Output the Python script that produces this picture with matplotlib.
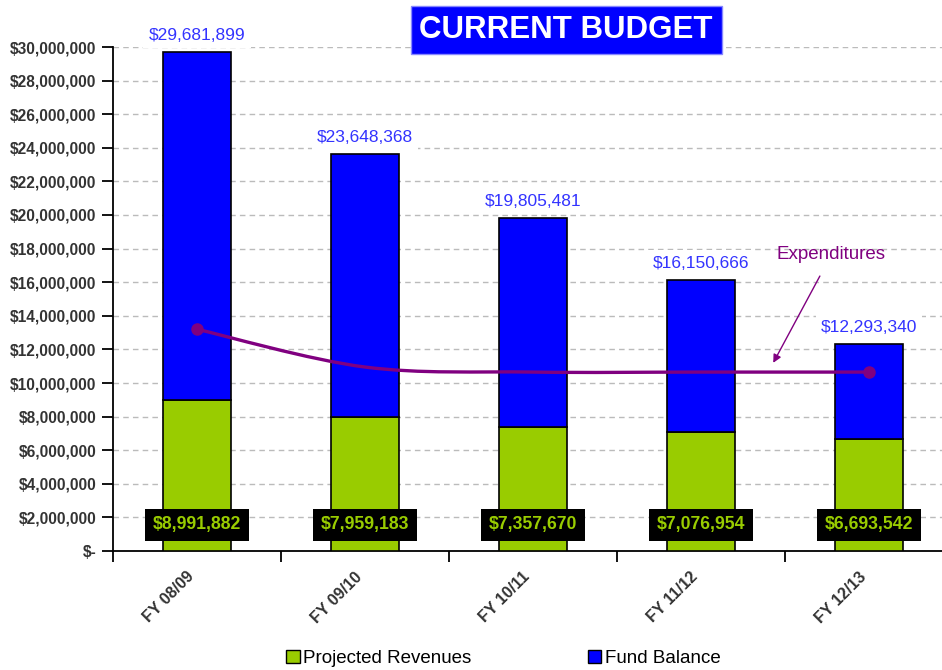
import numpy as np
import matplotlib
matplotlib.use('Agg')
import matplotlib.pyplot as plt
from matplotlib.path import Path
from matplotlib.patches import PathPatch, Patch
from matplotlib.ticker import FuncFormatter

plt.rcParams['font.family'] = ['Liberation Sans', 'DejaVu Sans']

# data
years = ['FY 08/09', 'FY 09/10', 'FY 10/11', 'FY 11/12', 'FY 12/13']
revenues = [8991882, 7959183, 7357670, 7076954, 6693542]
totals = [29681899, 23648368, 19805481, 16150666, 12293340]
expenditures = [13200000, 10950000, 10650000, 10650000, 10650000]

fund_balance = [t - r for t, r in zip(totals, revenues)]

green = '#99cc00'
blue = '#0000ff'
purple = '#800080'

fig = plt.figure(figsize=(9.42, 6.70), dpi=100)
ax = fig.add_axes([113 / 942, 119 / 670, 840 / 942, 504 / 670])

x = np.arange(len(years))
ax.bar(x, revenues, width=0.405, color=green, edgecolor='black', linewidth=1.2, zorder=3)
ax.bar(x, fund_balance, width=0.405, bottom=revenues, color=blue, edgecolor='black',
       linewidth=1.2, zorder=3)

# smoothed expenditures line (bezier through the points)
pts = np.column_stack([x, expenditures]).astype(float)
verts = [pts[0]]
codes = [Path.MOVETO]
n = len(pts)
for i in range(n - 1):
    p0 = pts[max(i - 1, 0)]
    p1 = pts[i]
    p2 = pts[i + 1]
    p3 = pts[min(i + 2, n - 1)]
    verts += [p1 + (p2 - p0) / 6, p2 - (p3 - p1) / 6, p2]
    codes += [Path.CURVE4] * 3
ax.add_patch(PathPatch(Path(verts, codes), fc='none', ec=purple, lw=2.4, zorder=4))
ax.plot([x[0], x[-1]], [expenditures[0], expenditures[-1]], 'o', color=purple,
        markersize=8, zorder=5)

# labels
for xi, t in zip(x, totals):
    ax.annotate(f'${t:,}', (xi, t), xytext=(0, 12), textcoords='offset points',
                ha='center', va='center', color='#3333ff', fontsize=12.5, zorder=6,
                bbox=dict(boxstyle='square,pad=0.3', fc='white', ec='none'))
for xi, r in zip(x, revenues):
    ax.text(xi, 1550000, f'${r:,}', ha='center', va='center', color=green,
            fontsize=12.7, fontweight='bold', zorder=6,
            bbox=dict(boxstyle='square,pad=0.42', fc='black', ec='none'))

ax.annotate('Expenditures', xy=(3.43, 11200000), xytext=(3.775, 17620000),
            ha='center', va='center', color=purple, fontsize=13.5,
            arrowprops=dict(arrowstyle='-|>', color=purple, lw=1,
                            shrinkA=8, shrinkB=0, mutation_scale=12), zorder=6)

ax.set_xlim(-0.5, 4.5)
ax.set_ylim(0, 30000000)
ax.set_yticks(np.arange(0, 30000001, 2000000))
ax.yaxis.set_major_formatter(FuncFormatter(lambda v, p: '$-' if v == 0 else f'${v:,.0f}'))
ax.set_xticks(np.arange(-0.5, 4.6, 1))
ax.set_xticklabels([])
ax.set_xticks(x, minor=True)
ax.set_xticklabels(years, minor=True, rotation=45, ha='right', va='top',
                   fontsize=11.5, fontweight='bold', color='#333333')
ax.tick_params(axis='x', which='minor', length=0, pad=13)
ax.tick_params(axis='x', which='major', length=8, width=1.3, direction='out')
ax.tick_params(axis='y', length=8, width=1.3, direction='out', labelsize=11.2,
               labelcolor='#333333', pad=4)
for lab in ax.get_yticklabels():
    lab.set_fontweight('bold')

ax.grid(axis='y', color='#bbbbbb', linestyle=(0, (4, 3)), linewidth=1, zorder=0)
ax.set_axisbelow(True)
for s in ['top', 'right']:
    ax.spines[s].set_visible(False)
ax.spines['left'].set_linewidth(1.3)
ax.spines['bottom'].set_linewidth(1.3)

fig.text(0.601, 0.955, 'CURRENT BUDGET', ha='center', va='center', color='white',
         fontsize=22.5, fontweight='bold',
         bbox=dict(boxstyle='square,pad=0.28', fc=blue, ec='#8888ff'))

handles = [Patch(fc=green, ec='black', label='Projected Revenues'),
           Patch(fc=blue, ec='black', label='Fund Balance')]
fig.legend(handles=handles, loc='center', bbox_to_anchor=(0.5345, 0.017), ncol=2,
           frameon=False, fontsize=13.5, handlelength=0.7, handleheight=0.7,
           handletextpad=0.2, columnspacing=6.2, borderpad=0.1)

fig.savefig('out.png', dpi=100)
